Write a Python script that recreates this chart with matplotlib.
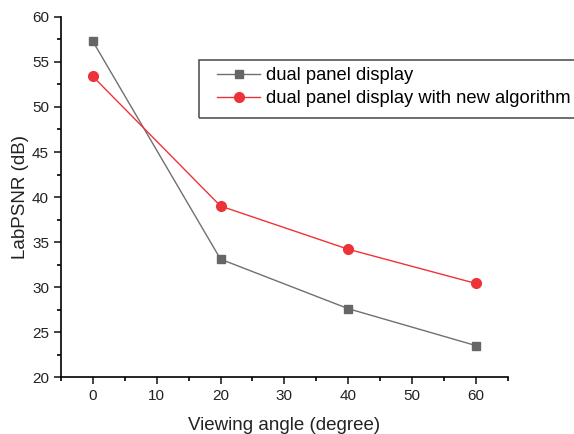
import matplotlib
matplotlib.use('Agg')
import matplotlib.pyplot as plt
from matplotlib.patches import Rectangle

# Data
angles = [0, 20, 40, 60]
psnr_dual = [57.3, 33.1, 27.6, 23.5]
psnr_new = [53.4, 39.0, 34.2, 30.4]
series_labels = ['dual panel display', 'dual panel display with new algorithm']

plt.rcParams['font.family'] = ['Liberation Sans', 'DejaVu Sans']

W, H = 574, 434
fig = plt.figure(figsize=(W / 100, H / 100), dpi=100)
ax = fig.add_axes([0.106, 0.131, 0.779, 0.830])

ax.plot(angles, psnr_dual, color='#707070', lw=1.0, marker='s', ms=5.5,
        mfc='#666666', mec='#666666', label=series_labels[0])
ax.plot(angles, psnr_new, color='#ee3338', lw=1.0, marker='o', ms=7,
        mfc='#ee3338', mec='#ee3338', label=series_labels[1])

ax.set_xlim(-5, 65)
ax.set_ylim(20, 60)
ax.set_xticks(range(0, 61, 10))
ax.set_xticks(range(-5, 66, 10), minor=True)
ax.set_yticks(range(20, 61, 5))
ax.set_yticks([v + 2.5 for v in range(20, 60, 5)], minor=True)

for side in ['top', 'right']:
    ax.spines[side].set_visible(False)
for side in ['left', 'bottom']:
    ax.spines[side].set_linewidth(1.2)
ax.tick_params(which='major', direction='out', length=5, width=1.2, labelsize=11, colors='#222222')
ax.tick_params(which='minor', direction='out', length=3, width=1.2)

ax.set_xlabel('Viewing angle (degree)', fontsize=13.5, labelpad=10, color='#222222')
ax.set_ylabel('LabPSNR (dB)', fontsize=13.5, labelpad=2, color='#222222')

# legend without its own frame; the box is drawn separately so it can run off the right edge
leg = fig.legend(loc='upper left', bbox_to_anchor=(217 / W, 1 - 67 / H), fontsize=13.2,
                 frameon=False, borderpad=0, borderaxespad=0,
                 handlelength=2.35, labelspacing=0.33, handletextpad=0.35)
fig.patches.append(Rectangle((199 / W, 1 - 118 / H), 400 / W, 58 / H,
                             transform=fig.transFigure, fill=False,
                             edgecolor='#555555', lw=1.2))

fig.savefig('out.png', dpi=100)
